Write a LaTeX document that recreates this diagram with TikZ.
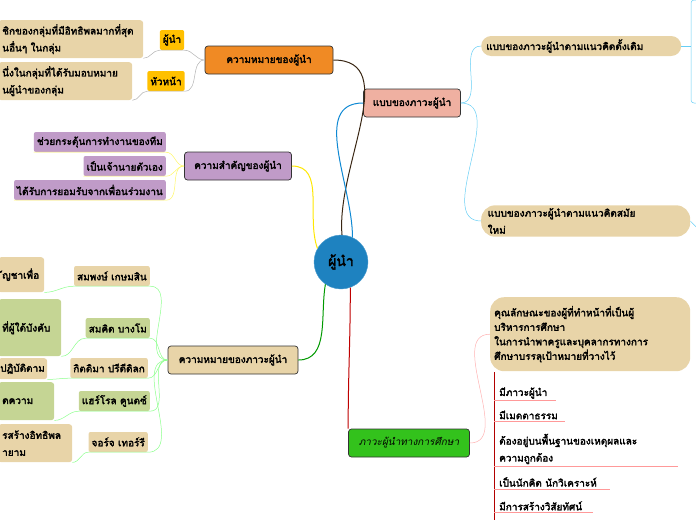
\documentclass[tikz,border=0pt]{standalone}
\usepackage{fontspec}
\setmainfont[Script=Thai,AutoFakeBold=2.5]{Loma}
\usetikzlibrary{positioning,calc}
\definecolor{orangebox}{HTML}{F08A24}
\definecolor{tagyellow}{HTML}{FFC000}
\definecolor{beige}{HTML}{E8D4A8}
\definecolor{lilac}{HTML}{C09BC8}
\definecolor{salmon}{HTML}{EFB0A1}
\definecolor{leaf}{HTML}{33C21C}
\definecolor{sage}{HTML}{C5D594}
\definecolor{hubblue}{HTML}{1E82C0}
\tikzset{
  mainbox/.style={draw=black!80, line width=0.7pt, rounded corners=3pt, minimum height=28pt, inner sep=2pt, font=\bfseries\fontsize{10}{12}\selectfont},
  tagbox/.style={rounded corners=2pt, inner sep=3pt, minimum height=20pt, font=\bfseries\fontsize{10}{12}\selectfont},
  textbox/.style={rounded corners=3pt, inner sep=4pt, align=left, anchor=north west, font=\bfseries\fontsize{10}{17}\selectfont},
  item/.style={anchor=west, inner sep=2pt, align=left, font=\bfseries\fontsize{10}{17}\selectfont},
  link/.style={line width=0.5pt}
}
\begin{document}
\begin{tikzpicture}[x=1pt,y=-1pt]
\useasboundingbox (0,0) rectangle (696,520);
\clip (0,0) rectangle (696,520);

% hub
\node[circle, draw=hubblue!80, fill=hubblue, minimum size=54pt, font=\bfseries\fontsize{14}{16}\selectfont] (hub) at (341,262) {ผู้นำ};

% main branches
\node[mainbox, fill=orangebox, minimum width=128pt] (meaning) at (269,60) {ความหมายของผู้นำ};
\node[mainbox, fill=lilac, minimum width=107pt] (value) at (238,166) {ความสำคัญของผู้นำ};
\node[mainbox, fill=beige, minimum width=130pt] (lead) at (233,360) {ความหมายของภาวะผู้นำ};
\node[mainbox, fill=salmon, minimum width=97pt] (styles) at (412,103) {แบบของภาวะผู้นำ};
\node[mainbox, fill=leaf, minimum width=121pt, font=\bfseries\itshape\fontsize{10}{12}\selectfont] (edu) at (409,443) {ภาวะผู้นำทางการศึกษา};

\draw[link, black!70!brown, line width=1pt] (hub.north) ++(1,0) to[out=95,in=0] (meaning.east);
\draw[link, yellow!90!orange, line width=1pt] (hub.150) to[out=110,in=0] (value.east);
\draw[link, cyan!70!blue, line width=1pt] (hub.65) to[out=90,in=180] (styles.west);
\draw[link, green!60!black, line width=1pt] (hub.235) to[out=260,in=0] (lead.east);
\draw[link, red!75!black, line width=1pt] (hub.290) to[out=270,in=90] (edu.north west);

% meaning of leader
\node[tagbox, fill=tagyellow] (tagA) at (172,40) {ผู้นำ};
\node[tagbox, fill=tagyellow] (tagB) at (166,81) {หัวหน้า};
\node[textbox, fill=beige, text width=137pt] (defA) at (-2,20) {ชิกของกลุ่มที่มีอิทธิพลมากที่สุด\\นอื่นๆ ในกลุ่ม};
\node[textbox, fill=beige, text width=126pt] (defB) at (-2,62) {นึ่งในกลุ่มที่ได้รับมอบหมาย\\นผู้นำของกลุ่ม};
\foreach \t/\d in {tagA/defA, tagB/defB}{
  \draw[link, gray!60] (meaning.west) to[out=180,in=0] (\t.south east) -- (\t.south west) to[out=180,in=0] (\d.south east);
}

% value of leader
\node[tagbox, fill=lilac, anchor=east] (vA) at (166,142) {ช่วยกระตุ้นการทำงานของทีม};
\node[tagbox, fill=lilac, anchor=east] (vB) at (166,166) {เป็นเจ้านายตัวเอง};
\node[tagbox, fill=lilac, anchor=east] (vC) at (166,190) {ได้รับการยอมรับจากเพื่อนร่วมงาน};
\foreach \v in {vA,vB,vC}{
  \draw[link, yellow!60] (value.west) to[out=180,in=0] (\v.south east) -- (\v.south west);
}

% meaning of leadership
\node[tagbox, fill=beige, anchor=east] (pA) at (150,276) {สมพงษ์  เกษมสิน};
\node[tagbox, fill=sage, anchor=east] (pB) at (150,328) {สมคิด บางโม};
\node[tagbox, fill=beige, anchor=east] (pC) at (148,368) {กิตติมา ปรีดีดิลก};
\node[tagbox, fill=sage, anchor=east] (pD) at (150,401) {แฮร์โรล คูนตซ์};
\node[tagbox, fill=beige, anchor=east] (pE) at (148,442) {จอร์จ เทอร์รี};
\node[textbox, fill=beige, text width=38pt, minimum height=35pt] (qA) at (-2,257) {ัญชาเพื่อ};
\node[textbox, fill=sage, text width=55pt, minimum height=57pt] (qB) at (-2,299) {ที่ผู้ใต้บังคับ};
\node[textbox, fill=beige, text width=45pt, minimum height=21pt, inner sep=2pt] (qC) at (-2,358) {ปฏิบัติตาม};
\node[textbox, fill=sage, text width=48pt, minimum height=38pt] (qD) at (-2,382) {ดความ};
\node[textbox, fill=beige, text width=66pt, minimum height=38pt] (qE) at (-2,424) {รสร้างอิทธิพล\\ายาม};
\foreach \p/\q in {pA/qA, pB/qB, pC/qC, pD/qD, pE/qE}{
  \draw[link, green!45!white] (lead.west) to[out=180,in=0] (\p.south east) -- (\p.south west) to[out=180,in=0] (\q.south east);
}

% styles of leadership
\node[tagbox, fill=beige, rounded corners=10pt, anchor=west, minimum width=200pt, align=left, text width=190pt] (sA) at (481,46) {แบบของภาวะผู้นำตามแนวคิดดั้งเดิม};
\node[tagbox, fill=beige, rounded corners=14pt, anchor=west, minimum width=209pt, align=left, text width=196pt, font=\bfseries\fontsize{10}{17}\selectfont] (sB) at (481,221) {แบบของภาวะผู้นำตามแนวคิดสมัย\\ใหม่};
\foreach \s in {sA,sB}{
  \draw[link, cyan!60] (styles.east) to[out=0,in=180] (\s.west);
}
\coordinate (sAend) at (691,46);
\coordinate (sBend) at (700,231);
\draw[link, cyan!60] (sA.east) -- (sAend);
\draw[link, cyan!60, rounded corners=3pt] (700,0) -- (691,0) -- (691,103) -- (700,103);
\draw[link, cyan!60] (sB.east) -- (sBend);

% educational leadership
\node[textbox, fill=beige, rounded corners=14pt, text width=192pt, minimum height=74pt, font=\bfseries\fontsize{10}{14.5}\selectfont] (eDef) at (490,297) {คุณลักษณะของผู้ที่ทำหน้าที่เป็นผู้\\บริหารการศึกษา\\ในการนำพาครูและบุคลากรทางการ\\ศึกษาบรรลุเป้าหมายที่วางไว้};
\draw[link, red!30] (edu.east) to[out=0,in=180] (eDef.west);
\coordinate (rail) at (494,372);
\coordinate (railEnd) at (494,520);
\draw[link, red!70!black] (rail) -- (railEnd);
\node[item] (eA) at (497,393) {มีภาวะผู้นำ};
\node[item] (eB) at (497,415) {มีเมตตาธรรม};
\node[item, font=\bfseries\fontsize{10}{17}\selectfont] (eC) at (497,449) {ต้องอยู่บนพื้นฐานของเหตุผลและ\\ความถูกต้อง};
\node[item] (eD) at (497,482) {เป็นนักคิด นักวิเคราะห์};
\node[item] (eE) at (497,506) {มีการสร้างวิสัยทัศน์};
\foreach \e/\w in {eA/556, eB/565, eC/678, eD/610, eE/593}{
  \draw[link, red!40] (\e.south west -| rail) -- (\e.south west -| \w,0);
}
\end{tikzpicture}
\end{document}
